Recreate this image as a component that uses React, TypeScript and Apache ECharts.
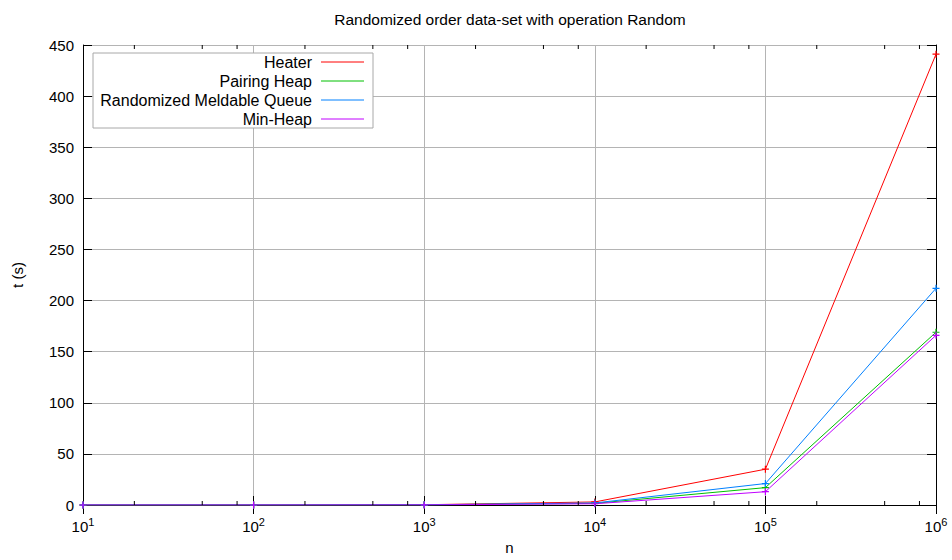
import React, { useEffect, useRef } from "react";
import * as echarts from "echarts";

const nValues = [10, 100, 1000, 10000, 100000, 1000000];
const heater = [0.01, 0.02, 0.25, 3.0, 35, 441];
const pairingHeap = [0.01, 0.02, 0.15, 1.6, 17, 169];
const randomizedMeldable = [0.01, 0.02, 0.18, 2.0, 21, 212];
const minHeap = [0.01, 0.01, 0.1, 1.2, 13, 166];

const seriesNames = ["Heater", "Pairing Heap", "Randomized Meldable Queue", "Min-Heap"];
const seriesColors = ["#ff0000", "#00c000", "#0080ff", "#c000ff"];
const seriesValues = [heater, pairingHeap, randomizedMeldable, minHeap];

const minorTickValues = [
  20, 50, 80, 200, 500, 800, 2000, 5000, 8000, 20000, 50000, 80000, 200000, 500000, 800000,
];

const FONT = '"Liberation Sans", Arial, Helvetica, sans-serif';

export default function App() {
  const ref = useRef<HTMLDivElement>(null);

  useEffect(() => {
    if (!ref.current) return;
    const chart = echarts.init(ref.current, null, { renderer: "svg" });

    const lineSeries = seriesNames.map((name, i) => ({
      name,
      type: "line",
      xAxisIndex: 0,
      yAxisIndex: 0,
      data: nValues.map((n, j) => [n, seriesValues[i][j]]),
      symbol: "path://M0,5H10M5,0V10",
      symbolSize: 7,
      showSymbol: true,
      lineStyle: { color: seriesColors[i], width: 1 },
      itemStyle: { color: "none", borderColor: seriesColors[i], borderWidth: 1.2 },
      emphasis: { disabled: true },
      z: 3,
    }));

    const minorTicks = {
      type: "custom",
      xAxisIndex: 0,
      yAxisIndex: 0,
      silent: true,
      clip: false,
      z: 4,
      data: minorTickValues.map((v) => [v, 0]),
      renderItem: (params: any, api: any) => {
        const v = api.value(0);
        const pb = api.coord([v, 0]);
        const pt = api.coord([v, 450]);
        return {
          type: "group",
          children: [
            {
              type: "line",
              shape: { x1: pb[0], y1: pb[1], x2: pb[0], y2: pb[1] - 4 },
              style: { stroke: "#000", lineWidth: 1 },
            },
            {
              type: "line",
              shape: { x1: pt[0], y1: pt[1], x2: pt[0], y2: pt[1] + 4 },
              style: { stroke: "#000", lineWidth: 1 },
            },
          ],
        };
      },
    };

    const legendX = 93;
    const legendY = 53;
    const rowH = 19;
    const legendGraphics: any[] = [
      {
        type: "rect",
        shape: { x: legendX, y: legendY, width: 280, height: 75 },
        style: { fill: "#fff", stroke: "#a8a8a8", lineWidth: 1 },
        z: 100,
      },
    ];
    seriesNames.forEach((name, i) => {
      const cy = legendY + 9 + i * rowH;
      legendGraphics.push({
        type: "text",
        x: 312,
        y: cy,
        z: 101,
        style: {
          text: name,
          align: "right",
          verticalAlign: "middle",
          fontSize: 16,
          fontFamily: FONT,
          fill: "#000",
        },
      });
      legendGraphics.push({
        type: "line",
        z: 101,
        shape: { x1: 321, y1: cy, x2: 364, y2: cy },
        style: { stroke: seriesColors[i], lineWidth: 1 },
      });
    });

    const option: any = {
      animation: false,
      backgroundColor: "#fff",
      textStyle: { fontFamily: FONT },
      title: {
        text: "Randomized order data-set with operation Random",
        left: 505,
        top: 6,
        textAlign: "center",
        textStyle: { fontSize: 15.5, fontWeight: "normal", color: "#000", fontFamily: FONT },
      },
      grid: { left: 83, right: 16, top: 45, bottom: 51, containLabel: false },
      xAxis: [
        {
          type: "log",
          logBase: 10,
          min: 10,
          max: 1000000,
          position: "bottom",
          name: "n",
          nameLocation: "middle",
          nameGap: 35,
          nameTextStyle: { fontSize: 15, color: "#000", fontFamily: FONT },
          axisLine: { show: true, lineStyle: { color: "#000", width: 1 } },
          axisTick: { show: true, inside: true, length: 9, lineStyle: { color: "#000" } },
          splitLine: { show: true, lineStyle: { color: "#b4b4b4", width: 1 } },
          minorTick: { show: false },
          axisLabel: {
            margin: 11,
            color: "#000",
            formatter: (v: number) => {
              const e = Math.round(Math.log10(v));
              return `{b|10}{s|${e}}`;
            },
            rich: {
              b: { fontSize: 15, fontFamily: FONT, color: "#000" },
              s: { fontSize: 11, fontFamily: FONT, color: "#000", padding: [0, 0, 9, 0] },
            },
          },
        },
        {
          type: "log",
          logBase: 10,
          min: 10,
          max: 1000000,
          position: "top",
          axisLine: { show: true, lineStyle: { color: "#000", width: 1 } },
          axisTick: { show: true, inside: true, length: 9, lineStyle: { color: "#000" } },
          splitLine: { show: false },
          axisLabel: { show: false },
        },
      ],
      yAxis: [
        {
          type: "value",
          min: 0,
          max: 450,
          interval: 50,
          position: "left",
          name: "t (s)",
          nameLocation: "middle",
          nameGap: 58,
          nameRotate: 90,
          nameTextStyle: { fontSize: 15, color: "#000", fontFamily: FONT },
          axisLine: { show: true, lineStyle: { color: "#000", width: 1 } },
          axisTick: { show: true, inside: true, length: 9, lineStyle: { color: "#000" } },
          splitLine: { show: true, lineStyle: { color: "#b4b4b4", width: 1 } },
          axisLabel: { margin: 9, fontSize: 15, color: "#000", fontFamily: FONT },
        },
        {
          type: "value",
          min: 0,
          max: 450,
          interval: 50,
          position: "right",
          axisLine: { show: true, lineStyle: { color: "#000", width: 1 } },
          axisTick: { show: true, inside: true, length: 9, lineStyle: { color: "#000" } },
          splitLine: { show: false },
          axisLabel: { show: false },
        },
      ],
      series: [...lineSeries, minorTicks],
      graphic: legendGraphics,
    };

    chart.setOption(option);
    return () => {
      chart.dispose();
    };
  }, []);

  return (
    <div
      ref={ref}
      style={{ position: "absolute", left: 0, top: 0, width: 952, height: 560 }}
    />
  );
}
